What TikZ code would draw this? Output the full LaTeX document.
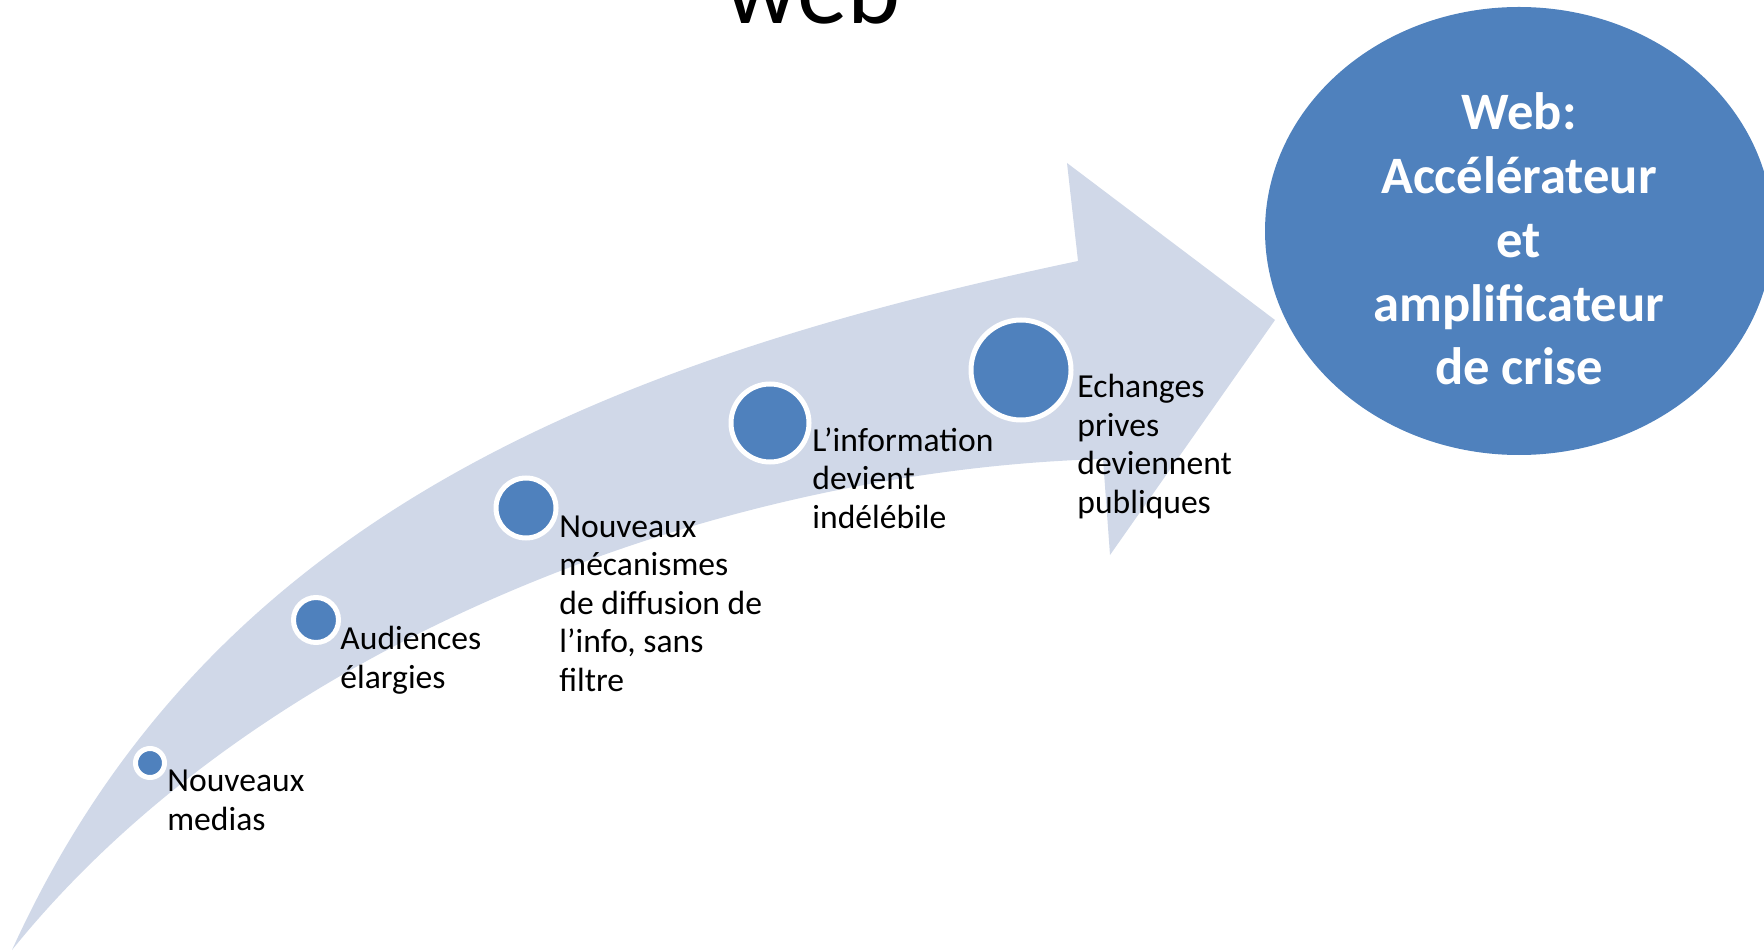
\documentclass[tikz,border=0pt]{standalone}
\usepackage{fontspec}
\setmainfont{Carlito}
\usetikzlibrary{shapes.geometric}
\definecolor{webblue}{HTML}{4F81BD}
\definecolor{bandgrey}{HTML}{D0D8E8}

\begin{document}
\begin{tikzpicture}[
    x=0.5pt, y=-0.5pt,
    dot/.style={circle, draw=white, line width=2.5pt, fill=webblue, inner sep=0pt},
    stage/.style={anchor=base west, align=left, inner sep=0pt, font=\fontsize{16.8}{19.2}\selectfont},
    bubble/.style={ellipse, fill=webblue, minimum width=254pt, minimum height=224pt, inner sep=0pt}
]
    \useasboundingbox (0,0) rectangle (1764,951);

    % Title (cut at the top)
    \node[anchor=base, inner sep=0pt, font=\fontsize{50.5}{60}\selectfont] (title) at (813,24) {web};

    % Curved arrow
    \fill[bandgrey] (12,950) .. controls (202,532) and (578,366) .. (1078,261)
        -- (1067,163) -- (1275,320) -- (1110,555) -- (1103,459)
        .. controls (720,470) and (262,640) .. (12,950) -- cycle;

    % Steps
    \node[dot, minimum size=14.5pt] (c1) at (150,763) {};
    \node[dot, minimum size=22.5pt] (c2) at (316,620) {};
    \node[dot, minimum size=30pt] (c3) at (526,508) {};
    \node[dot, minimum size=39pt] (c4) at (770,423) {};
    \node[dot, minimum size=50pt] (c5) at (1021,370) {};

    % Labels (placed at the baseline of their last line)
    \node[stage] (t1) at (167,830) {Nouveaux\\medias};
    \node[stage] (t2) at (340,688) {Audiences\\élargies};
    \node[stage] (t3) at (559,691) {Nouveaux\\mécanismes\\de diffusion de\\l’info, sans\\filtre};
    \node[stage] (t4) at (812,528) {L’information\\devient\\indélébile};
    \node[stage] (t5) at (1077,513) {Echanges\\prives\\deviennent\\publiques};

    % Result
    \node[bubble] (crise) at (1519,231) {};
    \node[align=center, inner sep=0pt, text=white, font=\bfseries\fontsize{26.3}{31.9}\selectfont] (critxt) at (1519,239)
        {Web:\\Accélérateur\\et\\amplificateur\\de crise};
\end{tikzpicture}
\end{document}
